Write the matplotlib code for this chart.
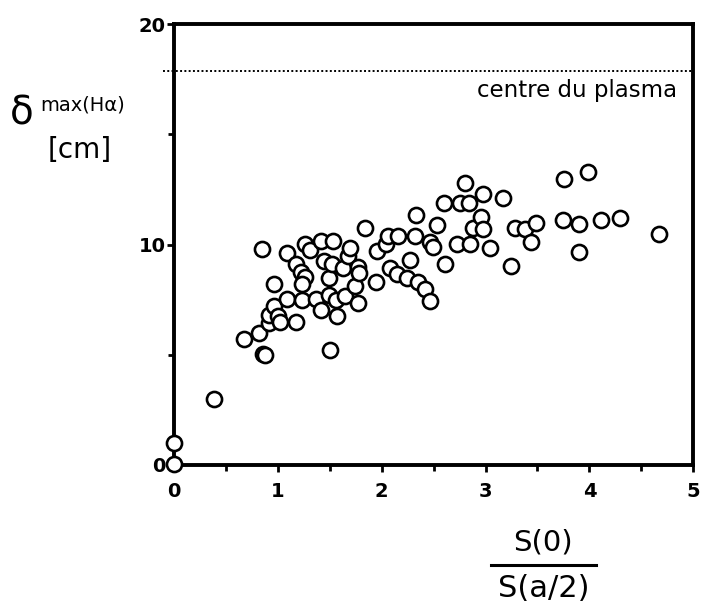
import matplotlib
matplotlib.use("Agg")
import matplotlib.pyplot as plt
from matplotlib.lines import Line2D

# ratio S(0)/S(a/2) and penetration depth delta_max(H-alpha) [cm]
ratio = [0.00, 0.00, 0.39, 0.68, 0.82, 0.86, 0.88, 0.92, 0.92, 0.96,
         1.00, 1.02, 1.18, 0.96, 0.85, 1.09, 1.09, 1.18, 1.22, 1.26,
         1.23, 1.23, 1.26, 1.31, 1.37, 1.42, 1.42, 1.45, 1.49, 1.49,
         1.50, 1.52, 1.53, 1.56, 1.57, 1.63, 1.65, 1.68, 1.70, 1.74,
         1.77, 1.78, 1.77, 1.84, 1.95, 1.96, 2.04, 2.06, 2.08, 2.15,
         2.16, 2.24, 2.27, 2.32, 2.33, 2.35, 2.42, 2.47, 2.47, 2.49,
         2.53, 2.60, 2.61, 2.73, 2.75, 2.80, 2.84, 2.85, 2.88, 2.96,
         2.98, 2.98, 3.04, 3.17, 3.25, 3.28, 3.38, 3.44, 3.49, 3.75,
         3.76, 3.90, 3.90, 3.99, 4.11, 4.29, 4.67]
delta = [0.05, 1.00, 3.00, 5.70, 6.00, 5.05, 4.98, 6.45, 6.80, 7.20,
         6.75, 6.50, 6.50, 8.20, 9.80, 9.60, 7.55, 9.10, 8.75, 8.55,
         8.20, 7.50, 10.05, 9.75, 7.55, 10.15, 7.05, 9.25, 8.50, 7.70,
         5.20, 9.10, 10.15, 7.50, 6.75, 8.95, 7.65, 9.50, 9.85, 8.10,
         9.00, 8.70, 7.35, 10.75, 8.30, 9.70, 10.05, 10.40, 8.95, 8.65,
         10.40, 8.50, 9.30, 10.40, 11.35, 8.30, 8.00, 7.45, 10.10, 9.90,
         10.90, 11.90, 9.10, 10.05, 11.90, 12.80, 11.90, 10.05, 10.75, 11.25,
         10.70, 12.30, 9.85, 12.10, 9.05, 10.75, 10.70, 10.10, 11.00, 11.10,
         13.00, 10.95, 9.65, 13.30, 11.10, 11.20, 10.50]
plasma_centre = 17.9

plt.rcParams["font.family"] = ["DejaVu Sans"]
fig = plt.figure(figsize=(7.01, 6.07), dpi=100)
ax = fig.add_axes([0.248, 0.234, 0.741, 0.726])

ax.scatter(ratio, delta, s=118, facecolors="white", edgecolors="black",
           linewidths=1.9, zorder=3, clip_on=False)
ax.plot([-0.1, 5], [plasma_centre, plasma_centre], color="black", ls=(0, (1, 1.2)),
        lw=1.4, clip_on=False)
ax.text(4.84, 16.7, "centre du plasma", ha="right", va="baseline", fontsize=16.5)

ax.set_xlim(0, 5)
ax.set_ylim(0, 20)
ax.set_xticks([0, 1, 2, 3, 4, 5])
ax.set_xticks([0.5, 1.5, 2.5, 3.5, 4.5], minor=True)
ax.set_yticks([0, 10, 20])
ax.set_yticks([5, 15], minor=True)
ax.tick_params(which="both", direction="out", width=2, labelsize=14)
ax.tick_params(which="major", length=5)
ax.tick_params(which="minor", length=4)
ax.tick_params(axis="x", pad=7)
ax.tick_params(axis="y", pad=1)
for lab in ax.get_xticklabels() + ax.get_yticklabels():
    lab.set_fontweight("bold")
for sp in ax.spines.values():
    sp.set_linewidth(2.8)

# y label: delta_max(H alpha) [cm]
fig.text(0.014, 0.795, "\u03b4", fontsize=28, ha="left", va="baseline")
fig.text(0.058, 0.818, "max(H\u03b1)", fontsize=14, ha="left", va="baseline")
fig.text(0.068, 0.74, "[cm]", fontsize=20, ha="left", va="baseline")

# x label drawn as a fraction
fig.text(0.775, 0.083, "S(0)", fontsize=21, ha="center", va="bottom")
fig.add_artist(Line2D([0.701, 0.85], [0.07, 0.07], color="black", lw=2.2))
fig.text(0.775, 0.006, "S(a/2)", fontsize=22, ha="center", va="bottom")

fig.savefig("out.png", dpi=100)
